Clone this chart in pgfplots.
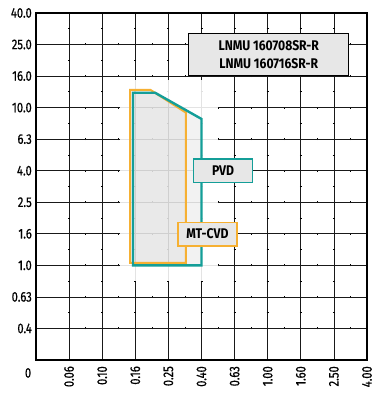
\documentclass[border=0pt]{standalone}
\usepackage{fontspec}
\setmainfont{Fira Sans}[FakeStretch=0.8, UprightFeatures={FakeBold=0.6}]
\newfontfamily\boxfont{Fira Sans}[FakeStretch=0.87]
\usepackage{pgfplots}
\usepackage{pgfplotstable}
\pgfplotsset{compat=1.18}
\definecolor{pvd}{RGB}{20,158,152}
\definecolor{cvd}{RGB}{246,176,50}
\definecolor{boxgray}{RGB}{231,231,231}

% outlines in category units (0.16 -> 3, 1.0 -> 3, ...)
\pgfplotstableread{
x y
2.93 3.00
2.93 8.47
3.60 8.47
5.00 7.64
5.00 3.00
}\pvdtab
\pgfplotstableread{
x y
2.84 3.08
2.84 8.56
3.46 8.56
4.53 7.84
4.53 3.08
}\cvdtab

\begin{document}
\begin{tikzpicture}[font=\fontsize{14pt}{16pt}\selectfont]
\begin{axis}[
  x=33.1pt, y=31.55pt,
  xmin=0, xmax=10, ymin=0, ymax=11,
  xtick={1,...,10},
  xticklabels={0.06,0.10,0.16,0.25,0.40,0.63,1.00,1.60,2.50,4.00},
  ytick={1,...,11},
  yticklabels={0.4,0.63,1.0,1.6,2.5,4.0,6.3,10.0,16.0,25.0,40.0},
  minor tick num=1,
  grid=both,
  major tick length=0pt, minor tick length=0pt,
  major grid style={black!90, line width=0.7pt},
  minor x grid style={black, line width=0.7pt, dash pattern=on 2pt off 29.55pt, dash phase=1pt},
  minor y grid style={black, line width=0.7pt, dash pattern=on 2pt off 31.1pt, dash phase=1pt},
  axis line style={line width=1.2pt},
  xticklabel style={rotate=90, anchor=east, inner sep=1pt},
  xticklabel shift=5pt,
  yticklabel style={inner sep=1pt},
  yticklabel shift=3pt,
  clip=false,
]
\coordinate (O) at (axis cs:0,0);
\fill[white, opacity=0.88] (axis cs:2.54,2.5) rectangle (axis cs:5.5,8.87);
\addplot[draw=none, fill=black, fill opacity=0.05] table {\pvdtab} -- cycle;
\addplot[cvd, line width=2pt, fill=black, fill opacity=0.035] table {\cvdtab} -- cycle;
\addplot[pvd, line width=2.4pt] table {\pvdtab} -- cycle;

\node[draw=black, line width=1.5pt, fill=boxgray, minimum width=160pt, minimum height=42pt,
  inner sep=0pt, align=center, font=\fontsize{14pt}{18.3pt}\selectfont\boxfont\bfseries]
  at (axis cs:7.03,9.68) {LNMU 160708SR-R\\LNMU 160716SR-R};
\node[draw=pvd, line width=1.5pt, fill=boxgray, minimum width=59pt, minimum height=23.5pt,
  inner sep=0pt, font=\fontsize{14pt}{16pt}\selectfont\boxfont\bfseries] at (axis cs:5.65,6.0) {PVD};
\node[draw=cvd, line width=1.5pt, fill=boxgray, minimum width=59pt, minimum height=23.5pt,
  inner sep=0pt, font=\fontsize{14pt}{16pt}\selectfont\boxfont\bfseries] at (axis cs:5.18,3.99) {MT-CVD};
\node at (axis cs:-0.24,-0.41) {0};
\end{axis}
\path (O) ++(-36pt,-50pt) rectangle ++(377pt,410pt);
\end{tikzpicture}
\end{document}
